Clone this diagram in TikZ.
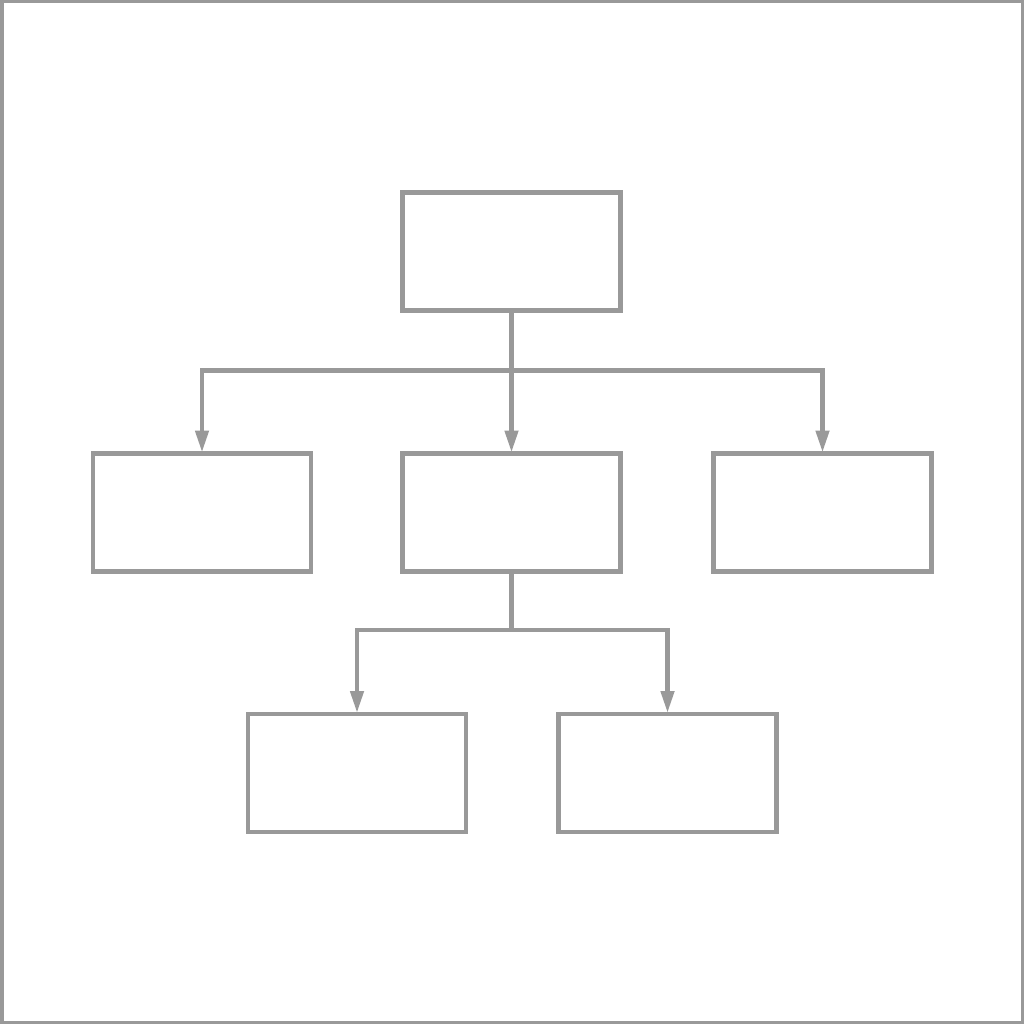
\documentclass[tikz,border=0pt]{standalone}
\usetikzlibrary{arrows.meta}
\definecolor{gc}{HTML}{999999}
\begin{document}
\begin{tikzpicture}[x=1pt,y=-1pt,
  box/.style={draw=gc, line width=4.5pt, minimum width=218pt, minimum height=118pt, inner sep=0pt, outer sep=0pt},
  conn/.style={draw=gc, line width=4.5pt},
  arr/.style={conn, -{Triangle[length=22pt,width=13pt]}}]
\useasboundingbox (0,0) rectangle (1024,1024);
\draw[gc, line width=3.5pt] (1.75,1.75) rectangle (1022.25,1022.25);
\node[box] (top) at (511.5,251.5) {};
\node[box] (ml) at (202,512.5) {};
\node[box] (mm) at (511.5,512.5) {};
\node[box] (mr) at (822.5,512.5) {};
\node[box] (bl) at (357,773) {};
\node[box] (br) at (667.5,773) {};
\coordinate (j1) at (511.5,370.5);
\coordinate (j2) at (511.5,630);
\draw[conn] (top.south) -- (j1);
\draw[arr] (j1) -| ([yshift=1pt]ml.north);
\draw[arr] (j1) -- ([yshift=1pt]mm.north);
\draw[arr] (j1) -| ([yshift=1pt]mr.north);
\draw[conn] (mm.south) -- (j2);
\draw[arr] (j2) -| ([yshift=1pt]bl.north);
\draw[arr] (j2) -| ([yshift=1pt]br.north);
\end{tikzpicture}
\end{document}
